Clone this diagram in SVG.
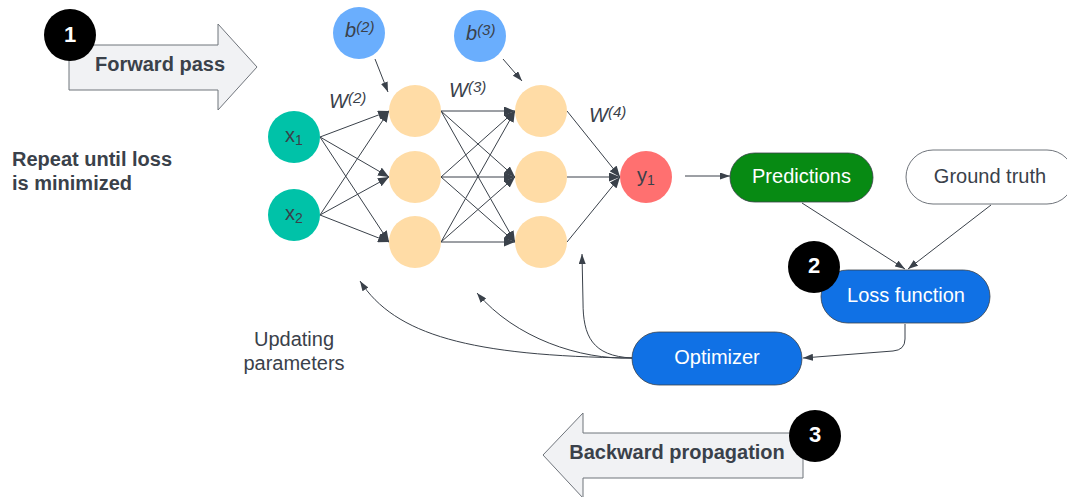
<svg xmlns="http://www.w3.org/2000/svg" width="1067" height="497" viewBox="0 0 1067 497">
  <style>
    text { font-family: "Liberation Sans", Arial, sans-serif; fill: #3a414a; }
    .lbl { font-size: 20px; }
    .bold { font-size: 20px; font-weight: bold; }
    .white { fill: #ffffff; font-size: 20px; }
    .num { fill: #ffffff; font-size: 22px; font-weight: bold; }
    .math { font-size: 20px; font-style: italic; }
    .sup { font-size: 15px; }
    .sub { font-size: 14px; }
    .edge { fill: none; stroke: #3a414a; stroke-width: 1; }
    .big-arrow { fill: #f1f2f4; stroke: #6f747b; stroke-width: 1; stroke-linejoin: round; }
    .badge { fill: #000000; }
    .in { fill: #00c2a8; }
    .hid { fill: #ffdca6; }
    .out { fill: #ff7070; }
    .bias { fill: #6aaefd; }
  </style>
  <defs>
    <marker id="head" viewBox="0 0 11 9" refX="11" refY="4.5" markerWidth="11" markerHeight="9" markerUnits="userSpaceOnUse" orient="auto">
      <path d="M0,0 L11,4.5 L0,9 z" fill="#3a414a"/>
    </marker>
    <marker id="head-sm" viewBox="0 0 10 7" refX="10" refY="3.5" markerWidth="10" markerHeight="7" markerUnits="userSpaceOnUse" orient="auto">
      <path d="M0,0 L10,3.5 L0,7 z" fill="#3a414a"/>
    </marker>
  </defs>

  <!-- Step 1: forward pass banner -->
  <g id="forward-pass">
    <path class="big-arrow" d="M69,45 L218,45 L218,24 L257,67 L218,110 L218,90 L69,90 Z"/>
    <text class="bold" x="160" y="71" text-anchor="middle">Forward pass</text>
  </g>
  <g id="step-1">
    <circle class="badge" cx="70" cy="35" r="26"/>
    <text class="num" x="70" y="42" text-anchor="middle">1</text>
  </g>

  <g id="repeat-note">
    <text class="bold" x="12" y="166">Repeat until loss</text>
    <text class="bold" x="12" y="190">is minimized</text>
  </g>

  <g id="updating-note">
    <text class="lbl" x="294" y="346" text-anchor="middle">Updating</text>
    <text class="lbl" x="294" y="370" text-anchor="middle">parameters</text>
  </g>

  <!-- Connectors -->
  <g id="connectors">
    <!-- inputs to first hidden layer -->
    <path class="edge" marker-end="url(#head)" d="M320,137 L389,111"/>
    <path class="edge" marker-end="url(#head)" d="M320,137 L389,177"/>
    <path class="edge" marker-end="url(#head)" d="M320,137 L389,242"/>
    <path class="edge" marker-end="url(#head)" d="M320,215 L389,111"/>
    <path class="edge" marker-end="url(#head)" d="M320,215 L389,177"/>
    <path class="edge" marker-end="url(#head)" d="M320,215 L389,242"/>
    <!-- first hidden layer to second hidden layer -->
    <path class="edge" marker-end="url(#head)" d="M441,111 L515,111"/>
    <path class="edge" marker-end="url(#head)" d="M441,111 L515,177"/>
    <path class="edge" marker-end="url(#head)" d="M441,111 L515,242"/>
    <path class="edge" marker-end="url(#head)" d="M441,177 L515,111"/>
    <path class="edge" marker-end="url(#head)" d="M441,177 L515,177"/>
    <path class="edge" marker-end="url(#head)" d="M441,177 L515,242"/>
    <path class="edge" marker-end="url(#head)" d="M441,242 L515,111"/>
    <path class="edge" marker-end="url(#head)" d="M441,242 L515,177"/>
    <path class="edge" marker-end="url(#head)" d="M441,242 L515,242"/>
    <!-- second hidden layer to output -->
    <path class="edge" marker-end="url(#head)" d="M567,111 L620,177"/>
    <path class="edge" marker-end="url(#head)" d="M567,177 L620,177"/>
    <path class="edge" marker-end="url(#head)" d="M567,242 L620,177"/>
    <!-- biases -->
    <path class="edge" marker-end="url(#head-sm)" d="M375,59 L388,92"/>
    <path class="edge" marker-end="url(#head-sm)" d="M503,59 L522,81"/>
    <!-- output to predictions -->
    <path class="edge" marker-end="url(#head-sm)" d="M685,176 L730,176"/>
    <!-- into loss -->
    <path class="edge" marker-end="url(#head-sm)" d="M802,203 L905,269"/>
    <path class="edge" marker-end="url(#head-sm)" d="M991,205 L908,269"/>
    <!-- loss to optimizer -->
    <path class="edge" marker-end="url(#head-sm)" d="M905,324 L905,339 Q905,350 893,351 L803,358"/>
    <!-- optimizer updating parameters -->
    <path class="edge" marker-end="url(#head-sm)" d="M632,358 C470,356 395,335 360,281"/>
    <path class="edge" marker-end="url(#head-sm)" d="M632,358 C580,360 515,338 477,293"/>
    <path class="edge" marker-end="url(#head-sm)" d="M632,358 C592,356 583,336 583,302 L582,254"/>
  </g>

  <!-- Bias nodes -->
  <g id="b2">
    <circle class="bias" cx="359" cy="33" r="26"/>
    <text class="math" x="345" y="37">b<tspan class="sup" dy="-5">(2)</tspan></text>
  </g>
  <g id="b3">
    <circle class="bias" cx="480" cy="36" r="26"/>
    <text class="math" x="466" y="39.5">b<tspan class="sup" dy="-5">(3)</tspan></text>
  </g>

  <!-- Weight labels -->
  <g id="w2"><text class="math" x="329" y="108">W<tspan class="sup" dy="-5">(2)</tspan></text></g>
  <g id="w3"><text class="math" x="449" y="97">W<tspan class="sup" dy="-5">(3)</tspan></text></g>
  <g id="w4"><text class="math" x="589" y="122">W<tspan class="sup" dy="-5">(4)</tspan></text></g>

  <!-- Input layer -->
  <g id="x1">
    <circle class="in" cx="294" cy="137" r="26"/>
    <text class="lbl" x="294" y="142" text-anchor="middle">x<tspan class="sub" dy="3">1</tspan></text>
  </g>
  <g id="x2">
    <circle class="in" cx="294" cy="215" r="26"/>
    <text class="lbl" x="294" y="220" text-anchor="middle">x<tspan class="sub" dy="3">2</tspan></text>
  </g>

  <!-- Hidden layers -->
  <g id="h1-1"><circle class="hid" cx="415" cy="111" r="26"/></g>
  <g id="h1-2"><circle class="hid" cx="415" cy="177" r="26"/></g>
  <g id="h1-3"><circle class="hid" cx="415" cy="242" r="26"/></g>
  <g id="h2-1"><circle class="hid" cx="541" cy="111" r="26"/></g>
  <g id="h2-2"><circle class="hid" cx="541" cy="177" r="26"/></g>
  <g id="h2-3"><circle class="hid" cx="541" cy="242" r="26"/></g>

  <!-- Output -->
  <g id="y1">
    <circle class="out" cx="646" cy="177" r="26"/>
    <text class="lbl" x="646" y="182" text-anchor="middle">y<tspan class="sub" dy="3">1</tspan></text>
  </g>

  <g id="predictions">
    <rect x="730" y="153" width="143" height="49" rx="24.5" fill="#078a13" stroke="#3a414a" stroke-width="0.8"/>
    <text class="white" x="801.5" y="183" text-anchor="middle">Predictions</text>
  </g>

  <g id="ground-truth">
    <rect x="906" y="150" width="168" height="54" rx="27" fill="#ffffff" stroke="#6f747b" stroke-width="1"/>
    <text class="lbl" x="990" y="183" text-anchor="middle">Ground truth</text>
  </g>

  <g id="loss-function">
    <rect x="821" y="270" width="169" height="53" rx="26.5" fill="#1071e5" stroke="#3a414a" stroke-width="0.8"/>
    <text class="white" x="906" y="302" text-anchor="middle">Loss function</text>
  </g>
  <g id="step-2">
    <circle class="badge" cx="814" cy="267" r="26"/>
    <text class="num" x="814" y="273" text-anchor="middle">2</text>
  </g>

  <g id="optimizer">
    <rect x="632" y="332" width="170" height="53" rx="26.5" fill="#1071e5" stroke="#3a414a" stroke-width="0.8"/>
    <text class="white" x="717" y="364" text-anchor="middle">Optimizer</text>
  </g>

  <!-- Step 3: backward propagation banner -->
  <g id="backward-propagation">
    <path class="big-arrow" d="M803,433 L583,433 L583,413 L543,455 L583,498 L583,478 L803,478 Z"/>
    <text class="bold" x="677" y="459" text-anchor="middle">Backward propagation</text>
  </g>
  <g id="step-3">
    <circle class="badge" cx="815" cy="436" r="26"/>
    <text class="num" x="815" y="442" text-anchor="middle">3</text>
  </g>
</svg>
